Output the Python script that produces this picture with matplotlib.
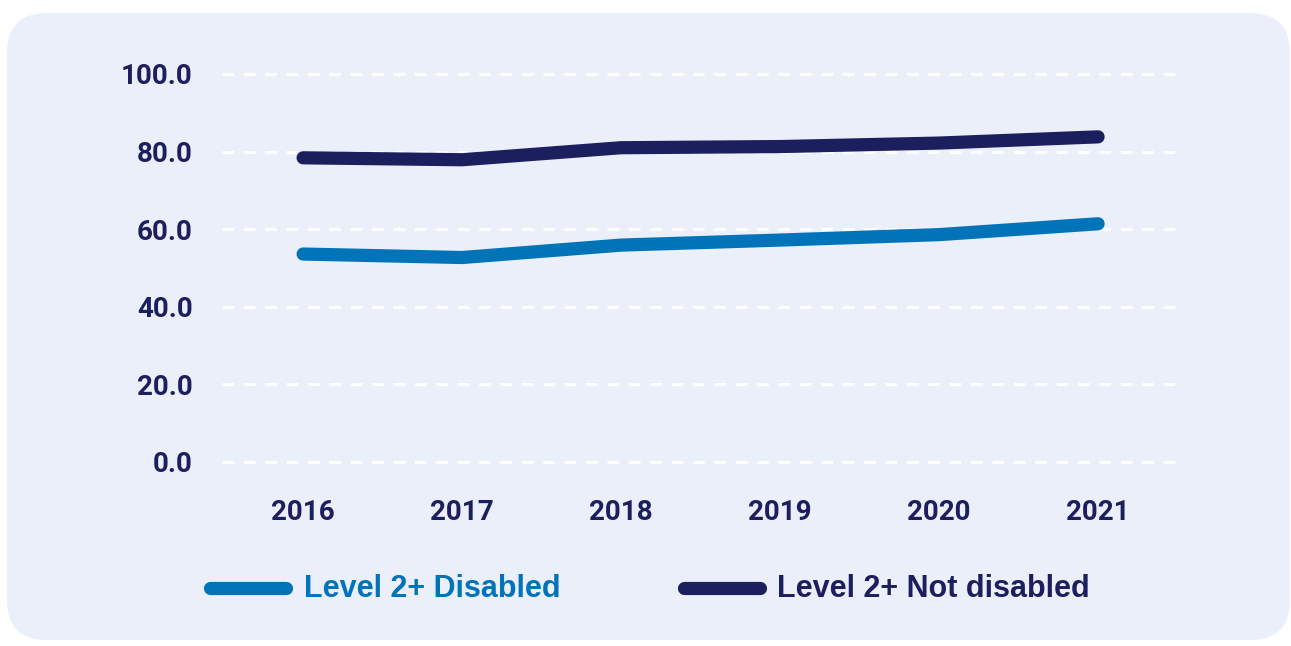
import matplotlib
matplotlib.use('Agg')
import matplotlib.pyplot as plt
from matplotlib import font_manager
from matplotlib.patches import FancyBboxPatch
from matplotlib.lines import Line2D

# Colours
NAVY = '#1c1f5e'
BLUE = '#0073b9'
PANEL = '#ebeff9'

# Data
years = ['2016', '2017', '2018', '2019', '2020', '2021']
disabled = [53.6, 52.7, 55.9, 57.2, 58.6, 61.4]
not_disabled = [78.4, 77.9, 81.0, 81.3, 82.2, 83.8]
series_labels = ['Level 2+ Disabled', 'Level 2+ Not disabled']
yticks = [0, 20, 40, 60, 80, 100]

installed = {f.name for f in font_manager.fontManager.ttflist}
LEGEND_FONT = 'Liberation Sans Narrow' if 'Liberation Sans Narrow' in installed else 'Liberation Sans'

W, H = 1291, 646
fig = plt.figure(figsize=(W / 100, H / 100), dpi=100)
fig.patch.set_facecolor('white')

# rounded background panel, drawn in pixel coordinates
bg = fig.add_axes([0, 0, 1, 1])
bg.set_xlim(0, W)
bg.set_ylim(H, 0)
bg.axis('off')
bg.add_patch(FancyBboxPatch((7 + 40, 13 + 40), 1283 - 80, 627 - 80,
                            boxstyle='round,pad=40', facecolor=PANEL,
                            edgecolor='none'))

# main plot
ax = fig.add_axes([222 / W, 1 - 462 / H, (1176 - 222) / W, (462 - 74) / H])
ax.set_facecolor('none')
x = list(range(len(years)))
ax.plot(x, disabled, color=BLUE, lw=9.5, solid_capstyle='round',
        solid_joinstyle='round', zorder=3, clip_on=False)
ax.plot(x, not_disabled, color=NAVY, lw=9.5, solid_capstyle='round',
        solid_joinstyle='round', zorder=3, clip_on=False)

ax.set_xlim(-0.51, 5.49)
ax.set_ylim(0, 100)
ax.set_yticks(yticks)
ax.set_yticklabels([f'{v:.1f}' for v in yticks])
ax.set_xticks(x)
ax.set_xticklabels(years)
for v in yticks:
    ax.axhline(v, color='white', lw=2.2, ls=(0, (3.8, 3.2)), zorder=1,
               clip_on=False)
for s in ax.spines.values():
    s.set_visible(False)
ax.tick_params(length=0, colors=NAVY)
ax.tick_params(axis='y', pad=21)
ax.tick_params(axis='x', pad=27)
for lbl in ax.get_xticklabels() + ax.get_yticklabels():
    lbl.set_fontfamily('Roboto')
    lbl.set_fontweight('bold')
    lbl.set_fontsize(20)
    lbl.set_color(NAVY)

# legend drawn by hand
leg_y = 588
for (x0, x1, tx), col, lab in zip([(210, 286, 304), (684, 760, 777)],
                                  [BLUE, NAVY], series_labels):
    bg.add_line(Line2D([x0, x1], [leg_y, leg_y], color=col, lw=9.5,
                       solid_capstyle='round'))
    bg.text(tx, leg_y + 1, lab, color=col, fontsize=22, fontweight='bold',
            family=LEGEND_FONT, va='center', ha='left')

fig.savefig('out.png', dpi=100)
